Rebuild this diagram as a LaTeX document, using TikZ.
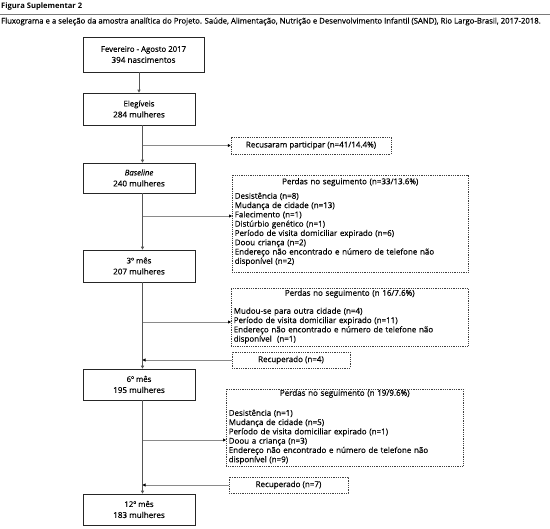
\documentclass[tikz,border=0pt]{standalone}
\usepackage{fontspec}
\setmainfont{Open Sans}[FakeBold=0.35,BoldFont={Open Sans Bold},BoldFeatures={FakeBold=0}]
\usetikzlibrary{arrows.meta,calc}
\definecolor{linegray}{HTML}{555555}
\definecolor{branchgray}{HTML}{8A8A8A}
\definecolor{rulegray}{HTML}{7A7A7A}
\newcommand{\secondline}[1]{{\fontsize{8.1}{11}\selectfont #1}}
\newcommand{\toppad}[1]{\rule{0pt}{#1}}
\newcommand{\botpad}[1]{\rule[-#1]{0pt}{#1}}
\begin{document}
\begin{tikzpicture}[x=1pt,y=-1pt,
  mainbox/.style={draw=black!85, line width=0.6pt, minimum width=112pt, inner sep=0pt,
    align=center, font=\fontsize{7.8}{11}\selectfont, text=black},
  dashbox/.style={draw=black!75, line width=0.5pt, dash pattern=on 1pt off 0.8pt,
    inner xsep=2.5pt, inner ysep=0pt, anchor=north west, text=black, align=left,
    font=\fontsize{8}{9.3}\selectfont},
  smallbox/.style={draw=black!75, line width=0.5pt, dash pattern=on 1pt off 0.8pt,
    inner sep=0pt, align=center, font=\fontsize{8}{9.3}\selectfont, text=black},
  conn/.style={draw=linegray, line width=0.7pt, -{Triangle[length=3pt,width=3pt]}},
  branch/.style={draw=branchgray, line width=0.7pt, -{Triangle[length=3pt,width=3pt,fill=black,color=black]}},
  ]
\useasboundingbox (0,0) rectangle (550,529);
% header
\node[anchor=west, font=\bfseries\fontsize{7.6}{8}\selectfont, inner sep=0pt] (title) at (1,7) {Figura Suplementar 2};
\draw[rulegray, line width=1.6pt] (0,14.5) -- (550,14.5);
\node[anchor=west, font=\fontsize{7.75}{8}\selectfont, inner sep=0pt] (caption) at (1,21.5) {Fluxograma e a seleção da amostra analítica do Projeto. Saúde, Alimentação, Nutrição e Desenvolvimento Infantil (SAND), Rio Largo-Brasil, 2017-2018.};
% main column
\coordinate (mx) at (142.5,0);
\node[mainbox, minimum width=121pt, minimum height=35pt] (b1) at (143.5,54.5) {Fevereiro - Agosto 2017\\\secondline{394 nascimentos}};
\node[mainbox, minimum height=32pt] (b2) at (139,109) {Elegíveis\\\secondline{284 mulheres}};
\node[mainbox, minimum height=30pt] (b3) at (139,178) {\textit{Baseline}\\\secondline{240 mulheres}};
\node[mainbox, minimum height=32pt] (b4) at (139,266) {3º mês\\\secondline{207 mulheres}};
\node[mainbox, minimum height=31pt] (b5) at (139,384.5) {6º mês\\\secondline{195 mulheres}};
\node[mainbox, minimum height=31pt] (b6) at (139,509.5) {12º mês\\\secondline{183 mulheres}};
% side boxes
\node[smallbox, minimum width=160pt, minimum height=17pt] (rec) at (311,145.5) {Recusaram participar (n=41/14.4\%)};
\node[dashbox, text width=231pt] (p1) at (232,175)
 {\makebox[\linewidth][c]{\toppad{9pt}Perdas no seguimento (n=33/13.6\%)}\\[5.2pt]
  Desistência (n=8)\\
  Mudança de cidade (n=13)\\
  Falecimento (n=1)\\
  Distúrbio genético (n=1)\\
  Período de visita domiciliar expirado (n=6)\\
  Doou criança (n=2)\\
  Endereço não encontrado e número de telefone não\\
  disponível (n=2)\botpad{8.5pt}};
\node[dashbox, text width=232pt] (p2) at (231,288)
 {\makebox[\linewidth][c]{\toppad{7.5pt}Perdas no seguimento (n 16/7.6\%)}\\[8.7pt]
  Mudou-se para outra cidade (n=4)\\
  Período de visita domiciliar expirado (n=11)\\
  Endereço não encontrado e número de telefone não\\
  disponível~ (n=1)\botpad{4.6pt}};
\node[smallbox, minimum width=118pt, minimum height=16pt] (r1) at (291,360) {Recuperado (n=4)};
\node[dashbox, text width=232pt] (p3) at (226,389)
 {\makebox[\linewidth][c]{\toppad{6.5pt}Perdas no seguimento (n 19/9.6\%)}\\[10.7pt]
  Desistência (n=1)\\
  Mudança de cidade (n=5)\\
  Período de visita domiciliar expirado (n=1)\\
  Doou a criança (n=3)\\
  Endereço não encontrado e número de telefone não\\
  disponível (n=9)\botpad{4pt}};
\node[smallbox, minimum width=119pt, minimum height=16pt] (r2) at (288.5,485) {Recuperado (n=7)};
% connectors
\draw[conn] (b1.south -| b2) -- (b2.north);
\draw[conn] (b2.south -| mx) -- (b3.north -| mx);
\draw[branch] (mx |- rec) -- (rec.west);
\draw[conn] (b3.south -| mx) -- (b4.north -| mx);
\coordinate (j1) at (142.5,216);
\draw[branch] (j1) -- (j1 -| p1.west);
\draw[conn] (b4.south -| mx) -- (b5.north -| mx);
\coordinate (j2) at (142.5,322);
\draw[branch] (j2) -- (j2 -| p2.west);
\draw[branch] (r1.west) -- (r1.west -| mx);
\draw[conn] (b5.south -| mx) -- (b6.north -| mx);
\coordinate (j3) at (142.5,440);
\draw[branch] (j3) -- (j3 -| p3.west);
\draw[branch] (r2.west) -- (r2.west -| mx);
\end{tikzpicture}
\end{document}
